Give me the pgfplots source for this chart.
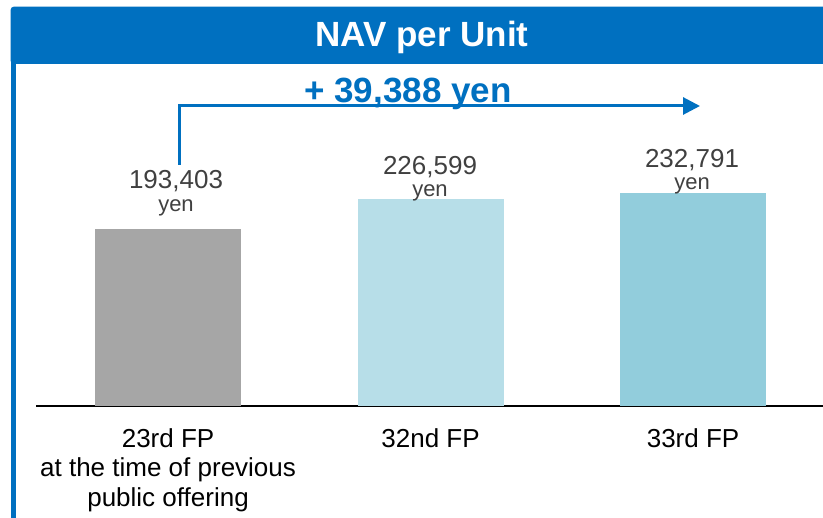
\documentclass[border=0pt]{standalone}
\usepackage{fontspec}
\setmainfont{Liberation Sans}
\usepackage{pgfplots}
\pgfplotsset{compat=1.18}
\usetikzlibrary{arrows.meta}
\definecolor{navblue}{HTML}{0070C0}
\definecolor{bargray}{HTML}{A6A6A6}
\definecolor{barlight}{HTML}{B7DEE8}
\definecolor{barmid}{HTML}{92CDDC}
\definecolor{lblgray}{HTML}{404040}
\begin{document}
\begin{tikzpicture}
\useasboundingbox[fill=white] (0pt,0pt) rectangle (823pt,518pt);
% frame
\fill[navblue] (11pt,0pt) rectangle (16pt,460pt);
\fill[navblue,rounded corners=3pt] (10.7pt,454pt) rectangle (840pt,511.3pt);
\node[anchor=base,text=white,font=\fontsize{35}{40}\selectfont\bfseries,inner sep=0pt] at (422pt,471pt) {NAV per Unit};
\begin{axis}[
  at={(36pt,112pt)}, anchor=south west,
  scale only axis, width=787pt, height=336pt,
  xmin=-0.503, xmax=2.495, ymin=0, ymax=367000,
  axis x line=bottom, axis y line=none,
  x axis line style={black, line width=2pt, -},
  xtick={0,1,2}, major tick length=0pt,
  xticklabels={{23rd FP\\at the time of previous\\public offering},{32nd FP},{33rd FP}},
  xticklabel style={align=center, anchor=north, inner sep=0pt, yshift=-22pt,
    font=\fontsize{26}{29.5}\selectfont, text=black},
  ytick=\empty,
  clip=false,
]
\addplot[ybar, bar shift=0pt, bar width=146pt, fill=bargray, draw=none] coordinates {(0,193403)};
\addplot[ybar, bar shift=0pt, bar width=146pt, fill=barlight, draw=none] coordinates {(1,226599)};
\addplot[ybar, bar shift=0pt, bar width=146pt, fill=barmid, draw=none] coordinates {(2,232791)};
\end{axis}
% value labels
\begin{scope}[every node/.style={anchor=base, inner sep=0pt, text=lblgray}]
\node[font=\fontsize{26}{30}\selectfont] at (176pt,329pt) {193,403};
\node[font=\fontsize{22}{26}\selectfont] at (176pt,306pt) {yen};
\node[font=\fontsize{26}{30}\selectfont] at (430pt,343pt) {226,599};
\node[font=\fontsize{22}{26}\selectfont] at (430pt,321pt) {yen};
\node[font=\fontsize{26}{30}\selectfont] at (692pt,350pt) {232,791};
\node[font=\fontsize{22}{26}\selectfont] at (692pt,328pt) {yen};
\end{scope}
% arrow
\draw[navblue, line width=3pt, -{Triangle[length=17pt,width=17pt]}] (179pt,353pt) -- (179pt,412pt) -- (700pt,412pt);
\node[anchor=base, inner sep=0pt, text=navblue, font=\fontsize{35}{40}\selectfont\bfseries] at (408pt,415pt) {+ 39,388 yen};
\end{tikzpicture}
\end{document}
